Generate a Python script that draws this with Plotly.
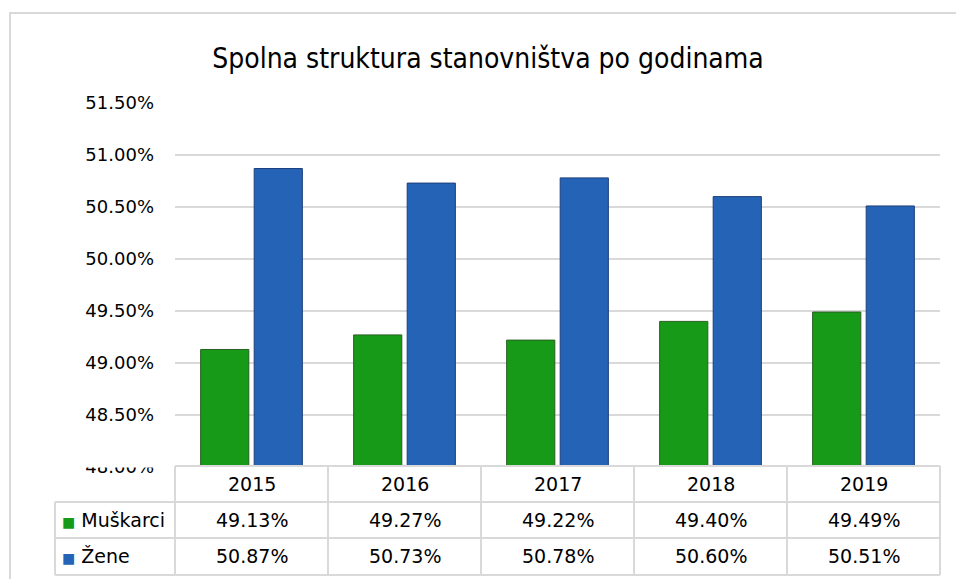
import plotly.graph_objects as go

# ---- data ----
years = ["2015", "2016", "2017", "2018", "2019"]
muskarci = [49.13, 49.27, 49.22, 49.40, 49.49]
zene = [50.87, 50.73, 50.78, 50.60, 50.51]
series_names = ["Muškarci", "Žene"]
y_ticks = [48.0, 48.5, 49.0, 49.5, 50.0, 50.5, 51.0, 51.5]
y_tick_labels = ["48.00%", "48.50%", "49.00%", "49.50%", "50.00%", "50.50%", "51.00%", "51.50%"]
title_text = "Spolna struktura stanovništva po godinama"

# ---- styles ----
W, H = 956, 579
ML, MR, MT, MB = 175, 16, 103, 112
PW, PH = W - ML - MR, H - MT - MB
GREEN, GREEN_LINE = "#179A17", "#2A5E22"
BLUE, BLUE_LINE = "#2563B6", "#1E3F7A"
GRID = "#D9D9D9"
FONT = "DejaVu Sans"


def px_x(p):
    return (p - ML) / PW


def px_y(p):
    return (H - MB - p) / PH


fig = go.Figure()
fig.add_trace(go.Bar(name=series_names[0], x=years, y=muskarci,
                     marker=dict(color=GREEN, line=dict(color=GREEN_LINE, width=1))))
fig.add_trace(go.Bar(name=series_names[1], x=years, y=zene,
                     marker=dict(color=BLUE, line=dict(color=BLUE_LINE, width=1))))

shapes = []
line = dict(color=GRID, width=2)
# outer chart border
shapes.append(dict(type="rect", xref="paper", yref="paper",
                   x0=px_x(10), x1=px_x(962), y0=px_y(13), y1=px_y(590),
                   line=dict(color=GRID, width=2), layer="below"))
# cover top part of 48.00% label (as in reference)
shapes.append(dict(type="rect", xref="paper", yref="paper",
                   x0=px_x(60), x1=px_x(172), y0=px_y(452), y1=px_y(467.5),
                   line=dict(width=0), fillcolor="white", layer="above"))
# table grid
y_head_top, y_r1, y_r2, y_bot = px_y(466), px_y(502), px_y(538), px_y(575)
x_left = px_x(55)
shapes.append(dict(type="line", xref="paper", yref="paper", x0=0, x1=1, y0=y_head_top, y1=y_head_top, line=line))
for yy in (y_r1, y_r2, y_bot):
    shapes.append(dict(type="line", xref="paper", yref="paper", x0=x_left, x1=1, y0=yy, y1=yy, line=line))
shapes.append(dict(type="line", xref="paper", yref="paper", x0=x_left, x1=x_left, y0=y_r1, y1=y_bot, line=line))
n = len(years)
for i in range(n + 1):
    xx = i / n
    shapes.append(dict(type="line", xref="paper", yref="paper", x0=xx, x1=xx, y0=y_head_top, y1=y_bot, line=line))

annotations = []
tfont = dict(family=FONT, size=19, color="black")
row_y = [px_y(484), px_y(520), px_y(556)]
for i, yr in enumerate(years):
    annotations.append(dict(x=i, y=row_y[0], xref="x", yref="paper", text=yr,
                            showarrow=False, font=tfont, xanchor="center", yanchor="middle"))
    annotations.append(dict(x=i, y=row_y[1], xref="x", yref="paper", text=f"{muskarci[i]:.2f}%",
                            showarrow=False, font=tfont, xanchor="center", yanchor="middle"))
    annotations.append(dict(x=i, y=row_y[2], xref="x", yref="paper", text=f"{zene[i]:.2f}%",
                            showarrow=False, font=tfont, xanchor="center", yanchor="middle"))
for name, col, yy in ((series_names[0], GREEN, row_y[1]), (series_names[1], BLUE, row_y[2])):
    annotations.append(dict(x=px_x(60), y=yy, xref="paper", yref="paper",
                            text=f"<span style='color:{col};font-size:14px'>■</span> {name}",
                            showarrow=False, font=tfont, xanchor="left", yanchor="middle"))

fig.update_layout(
    width=W, height=H,
    margin=dict(l=ML, r=MR, t=MT, b=MB, pad=0),
    paper_bgcolor="white", plot_bgcolor="white",
    barmode="group", bargap=0.30, bargroupgap=0.10,
    showlegend=False,
    title=dict(text=title_text, x=488 / W, xanchor="center", y=1 - 58 / H, yanchor="middle",
               font=dict(family="DejaVu Sans Condensed", size=28, color="black")),
    xaxis=dict(type="category", range=[-0.5, 4.5], showticklabels=False, showgrid=False,
               zeroline=False, showline=False, ticks=""),
    yaxis=dict(range=[48, 51.5], tickvals=y_ticks, ticktext=y_tick_labels,
               showgrid=True, gridcolor=GRID, gridwidth=1.5, zeroline=False, showline=False,
               ticks="", ticklabelstandoff=20,
               tickfont=dict(family=FONT, size=18, color="black")),
    shapes=shapes,
    annotations=annotations,
)

fig.write_html("out.html", config={"displayModeBar": False},
               post_script="document.body.style.margin='0';document.body.style.overflow='hidden';")
